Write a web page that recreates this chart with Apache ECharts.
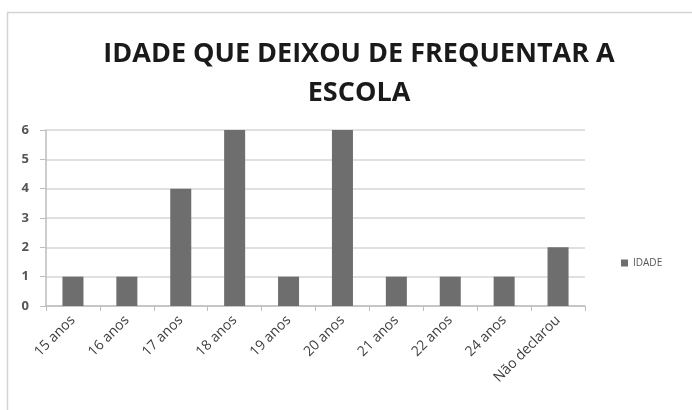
<!DOCTYPE html>
<html>
<head>
<meta charset="utf-8">
<script src="https://cdn.jsdelivr.net/npm/echarts@6/dist/echarts.min.js"></script>
<style>
  html, body { margin: 0; padding: 0; background: #fff; }
  #chart { width: 692px; height: 410px; }
</style>
</head>
<body>
<div id="chart"></div>
<script>
const categories = ['15 anos', '16 anos', '17 anos', '18 anos', '19 anos', '20 anos', '21 anos', '22 anos', '24 anos', 'Não declarou'];
const idadeValues = [1, 1, 4, 6, 1, 6, 1, 1, 1, 2];
const yTicks = [0, 1, 2, 3, 4, 5, 6];

const chart = echarts.init(document.getElementById('chart'));
chart.setOption({
  animation: false,
  backgroundColor: '#fff',
  graphic: [{
    type: 'rect',
    shape: { x: 7.5, y: 12.5, width: 700, height: 420 },
    style: { fill: 'none', stroke: '#d4d4d4', lineWidth: 1.5 }
  }],
  title: {
    text: 'IDADE QUE DEIXOU DE FREQUENTAR A\nESCOLA',
    left: 354,
    top: 30,
    textAlign: 'center',
    textStyle: {
      fontFamily: 'Open Sans',
      fontWeight: 'bold',
      fontSize: 27,
      lineHeight: 39,
      color: '#1a1a1a'
    }
  },
  legend: {
    data: ['IDADE'],
    left: 616,
    top: 253,
    itemWidth: 7,
    itemHeight: 7,
    itemGap: 4,
    icon: 'rect',
    textStyle: { fontFamily: 'Open Sans', fontSize: 10, color: '#555' }
  },
  grid: { left: 46, right: 107, top: 130, bottom: 104 },
  xAxis: {
    type: 'category',
    data: categories,
    axisLine: { lineStyle: { color: '#bdbdbd', width: 1.5 } },
    axisTick: { show: true, alignWithLabel: false, length: 5, lineStyle: { color: '#bdbdbd' } },
    axisLabel: {
      rotate: 45,
      interval: 0,
      fontFamily: 'Open Sans',
      fontSize: 14,
      color: '#3f3f3f',
      margin: 12
    }
  },
  yAxis: {
    type: 'value',
    min: 0,
    max: 6,
    interval: 1,
    axisLine: { show: true, lineStyle: { color: '#bdbdbd', width: 1.5 } },
    axisTick: { show: true, length: 6, lineStyle: { color: '#bdbdbd' } },
    axisLabel: {
      fontFamily: 'Open Sans',
      fontSize: 13,
      fontWeight: 'bold',
      color: '#555',
      margin: 17,
      formatter: v => (yTicks.includes(v) ? String(v) : '')
    },
    splitLine: { lineStyle: { color: '#d6d6d6', width: 1.5 } }
  },
  series: [{
    name: 'IDADE',
    type: 'bar',
    data: idadeValues,
    barWidth: '39%',
    itemStyle: { color: '#6e6e6e' }
  }]
});
</script>
</body>
</html>
